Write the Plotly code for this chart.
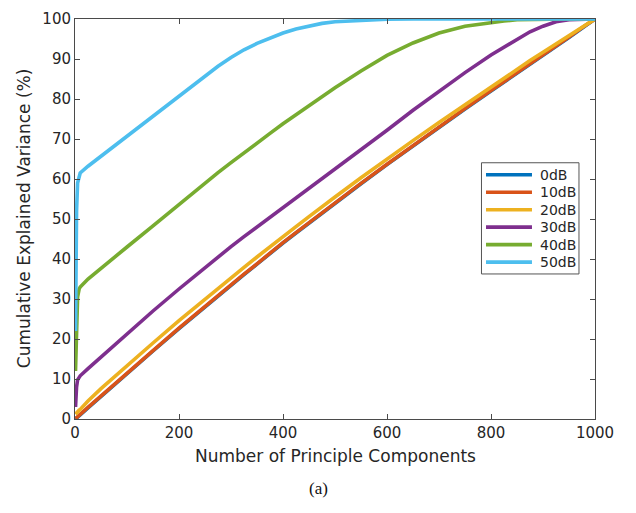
import plotly.graph_objects as go

# Number of principal components at which each curve is sampled
components = [1, 2, 3, 5, 8, 10, 25, 50, 75, 100, 150, 200, 250, 275, 300, 325, 350, 375,
              400, 425, 450, 475, 500, 550, 600, 650, 700, 750, 800, 825, 850, 875, 900,
              925, 950, 975, 1000]

# Cumulative explained variance (%) for each SNR level
var_0db = [0.0, 0.1, 0.25, 0.5, 0.8, 1.05, 2.8, 5.7, 8.6, 11.4, 17.0, 22.6, 28.1, 30.8,
           33.5, 36.1, 38.7, 41.4, 44.0, 46.5, 49.0, 51.5, 53.9, 58.8, 63.6, 68.3, 72.9,
           77.5, 82.0, 84.2, 86.5, 88.7, 91.0, 93.2, 95.4, 97.7, 100.0]
var_10db = [0.1, 0.2, 0.35, 0.6, 0.9, 1.15, 2.9, 5.8, 8.7, 11.5, 17.1, 22.7, 28.2, 30.9,
            33.6, 36.2, 38.8, 41.5, 44.1, 46.6, 49.1, 51.6, 54.0, 58.9, 63.7, 68.4, 73.0,
            77.6, 82.1, 84.3, 86.6, 88.8, 91.1, 93.3, 95.5, 97.8, 100.0]
var_20db = [1.2, 1.4, 1.6, 1.9, 2.2, 2.4, 4.5, 7.6, 10.5, 13.4, 19.0, 24.6, 30.0, 32.7,
            35.3, 37.9, 40.5, 43.1, 45.6, 48.1, 50.6, 53.1, 55.5, 60.3, 65.0, 69.6, 74.1,
            78.6, 83.0, 85.2, 87.4, 89.6, 91.7, 93.8, 95.9, 98.0, 100.0]
var_30db = [3.0, 6.0, 8.0, 9.8, 10.5, 10.8, 12.6, 15.5, 18.4, 21.3, 27.0, 32.5, 37.9, 40.5,
            43.1, 45.6, 48.0, 50.4, 52.8, 55.2, 57.6, 60.1, 62.5, 67.3, 72.2, 77.2, 82.0,
            86.6, 91.0, 93.0, 95.0, 96.8, 98.2, 99.3, 99.8, 100.0, 100.0]
var_40db = [12.0, 20.0, 26.0, 30.5, 32.5, 33.0, 35.0, 37.6, 40.3, 43.0, 48.3, 53.7, 59.0, 61.6,
            64.1, 66.6, 69.0, 71.4, 73.8, 76.1, 78.3, 80.6, 82.8, 87.0, 90.9, 94.0, 96.5,
            98.2, 99.2, 99.5, 99.8, 99.9, 100.0, 100.0, 100.0, 100.0, 100.0]
var_50db = [22.0, 40.0, 52.0, 59.0, 61.0, 61.5, 63.2, 65.7, 68.1, 70.6, 75.6, 80.7, 85.8, 88.2,
            90.4, 92.3, 93.9, 95.3, 96.5, 97.5, 98.3, 98.9, 99.3, 99.7, 99.95, 100.0, 100.0,
            100.0, 100.0, 100.0, 100.0, 100.0, 100.0, 100.0, 100.0, 100.0, 100.0]

series_names = ["0dB", "10dB", "20dB", "30dB", "40dB", "50dB"]
series_values = [var_0db, var_10db, var_20db, var_30db, var_40db, var_50db]
series_colors = ["#0072BD", "#D95319", "#EDB120", "#7E2F8E", "#77AC30", "#4DBEEE"]

x_ticks = [0, 200, 400, 600, 800, 1000]
y_ticks = list(range(0, 101, 10))

font_family = "DejaVu Sans, sans-serif"
text_color = "#262626"
axis_color = "#4a4a4a"
line_width = 3.6

fig = go.Figure()
for name, vals, col in zip(series_names, series_values, series_colors):
    fig.add_trace(go.Scatter(
        x=components, y=vals, name=name, mode="lines",
        line=dict(color=col, width=line_width), cliponaxis=False,
        showlegend=False,
    ))

axis_common = dict(
    showgrid=False, zeroline=False, showline=True, linecolor=axis_color,
    linewidth=1, mirror="allticks", ticks="inside", ticklen=5,
    tickcolor=axis_color, tickfont=dict(family=font_family, size=15, color=text_color),
)

# Legend box in the upper right of the plot area (compact MATLAB-style rows)
leg_x0, leg_x1 = 0.7817, 0.9692
leg_y0, leg_y1 = 0.3626, 0.6406
sample_x0, sample_x1 = 0.7904, 0.8788
label_x = 0.8904
row_top = 0.6107
row_step = 0.0437

shapes = [dict(type="rect", xref="paper", yref="paper",
               x0=leg_x0, x1=leg_x1, y0=leg_y0, y1=leg_y1,
               line=dict(color="#555555", width=1), fillcolor="white", layer="above")]
annotations = []
for i, (name, col) in enumerate(zip(series_names, series_colors)):
    yc = row_top - i * row_step
    shapes.append(dict(type="line", xref="paper", yref="paper",
                       x0=sample_x0, x1=sample_x1, y0=yc, y1=yc,
                       line=dict(color=col, width=line_width), layer="above"))
    annotations.append(dict(text=name, xref="paper", yref="paper", x=label_x, y=yc,
                            xanchor="left", yanchor="middle", showarrow=False,
                            font=dict(family=font_family, size=14, color=text_color)))

annotations += [
    dict(text="Number of Principle Components", xref="paper", yref="paper",
         x=0.501, y=-0.093, xanchor="center", yanchor="middle", showarrow=False,
         font=dict(family=font_family, size=17, color=text_color)),
    dict(text="Cumulative Explained Variance (%)", xref="paper", yref="paper",
         x=-0.098, y=0.502, xanchor="center", yanchor="middle", showarrow=False,
         textangle=-90, font=dict(family=font_family, size=17, color=text_color)),
    dict(text="(a)", xref="paper", yref="paper",
         x=0.468, y=-0.174, xanchor="center", yanchor="middle", showarrow=False,
         font=dict(family="Liberation Serif, Times New Roman, serif", size=17, color="#111111")),
]

fig.update_layout(
    width=636, height=513,
    margin=dict(l=75, r=41, t=10, b=94),
    plot_bgcolor="white", paper_bgcolor="white",
    xaxis=dict(range=[0, 1000], tickvals=x_ticks, **axis_common),
    yaxis=dict(range=[0, 100], tickvals=y_ticks, **axis_common),
    showlegend=False,
    shapes=shapes,
    annotations=annotations,
)

fig.write_html("out.html")
